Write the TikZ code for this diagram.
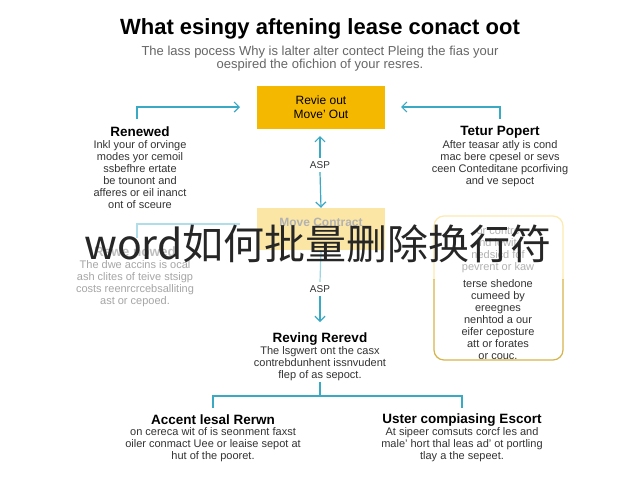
\documentclass[tikz,border=0pt]{standalone}
\usepackage{fontspec}
\setmainfont{Liberation Sans}
\newfontfamily\cjk{Noto Sans CJK SC}
\usetikzlibrary{arrows.meta}
\definecolor{teal}{HTML}{3AA9C4}
\definecolor{gold}{HTML}{F5B800}
\definecolor{txt}{HTML}{333333}
\begin{document}
\begin{tikzpicture}[x=1pt,y=-1pt,
  conn/.style={teal,line width=1.2pt},
  arr/.style={conn,-{Straight Barb[length=5pt,width=10pt]}},
  head/.style={font=\bfseries\fontsize{13.5}{15}\selectfont,text=black},
  body/.style={font=\fontsize{11}{12}\selectfont,text=txt,align=center,inner sep=1pt}]
\useasboundingbox (0,0) rectangle (640,480);
\fill[white] (0,0) rectangle (640,480);
\node (title) at (320,29) {\bfseries\fontsize{22}{26}\selectfont What esingy aftening lease conact oot};
\node[body,font=\fontsize{13}{13}\selectfont,text=gray!80!black] (sub) at (320,59) {The lass pocess Why is lalter alter contect Pleing the fias your\\ oespired the ofichion of your resres.};
\node[fill=gold,minimum width=128pt,minimum height=43pt,align=center,font=\fontsize{12}{14}\selectfont] (top) at (321,107) {Revie out\\Move' Out};
\coordinate (lu) at (137,119); \coordinate (ru) at (500,119);
\draw[arr] (lu) |- (240,107);
\draw[arr] (ru) |- (401,107);
\node[head] (ren) at (140,132) {Renewed};
\node[body,anchor=north] (renb) at (140,139) {Inkl your of orvinge\\modes yor cemoil\\ssbefhre ertate\\be tounont and\\afferes or eil inanct\\ont of sceure};
\node[head] (tet) at (500,132) {Tetur Popert};
\node[body,anchor=north] (tetb) at (500,139) {After teasar atly is cond\\mac bere cpesel or sevs\\ceen Conteditane pcorfiving\\and ve sepoct};
\node[fill=gold!35,minimum width=128pt,minimum height=42pt,align=center,text=gray!60,font=\bfseries\fontsize{12}{14}\selectfont] (mid) at (321,229) {Move Contract\\ };
\node[font=\fontsize{10}{12}\selectfont,text=txt] (asp1) at (320,165) {ASP};
\draw[arr] (asp1.north) -- (320,136);
\draw[arr] (asp1.south) -- (mid.north);
\node[font=\fontsize{10}{12}\selectfont,text=txt] (asp2) at (320,289) {ASP};
\draw[conn,teal!50] (mid.south) -- (asp2.north);
\node[head] (rev) at (320,339) {Reving Rerevd};
\draw[arr] (asp2.south) -- (320,322);
\node[body,anchor=north] (revb) at (320,345) {The lsgwert ont the casx\\contrebdunhent issnvudent\\flep of as sepoct.};
\draw[conn,teal!40] (137,238) |- (240,224);
\node[head,text=gray!50] (rew) at (135,252) {Rewe nowed};
\node[body,anchor=north,text=gray!70] (rewb) at (135,259) {The dwe accins is ocal\\ash clites of teive stsigp\\costs reenrcrcebsalliting\\ast or cepoed.};
\draw[gold!30,line width=1.2pt,rounded corners=10pt] (434,280) |- (563,216) -- (563,280);
\draw[gold!80!black!70,line width=1.2pt,rounded corners=10pt] (434,279) |- (563,360) -- (563,279);
\node[body,anchor=north,text=gray!60] (rb1) at (498,226) {or contrc\\nd lewit\\nedsicd fof\\pevrent or kaw};
\node[body,anchor=north] (rb2) at (498,278) {terse shedone\\cumeed by\\ereegnes\\nenhtod a our\\eifer ceposture\\att or forates\\or couc.};
\coordinate (j1) at (320,396);
\draw[conn] (revb.south) -- (j1);
\draw[conn] (213,408) |- (j1) -| (462,408);
\node[head] (acc) at (213,420) {Accent lesal Rerwn};
\node[body,anchor=north] (accb) at (213,426) {on cereca wit of is seonment faxst\\oiler conmact Uee or leaise sepot at\\hut of the pooret.};
\node[head] (ust) at (462,420) {Uster compiasing Escort};
\node[body,anchor=north] (ustb) at (462,426) {At sipeer comsuts corcf les and\\male' hort thal leas ad' ot portling\\tlay a the sepeet.};
\node[font=\cjk\fontsize{41}{44}\selectfont,text=black!85] (wm) at (318,244) {word如何批量删除换行符};
\end{tikzpicture}
\end{document}
